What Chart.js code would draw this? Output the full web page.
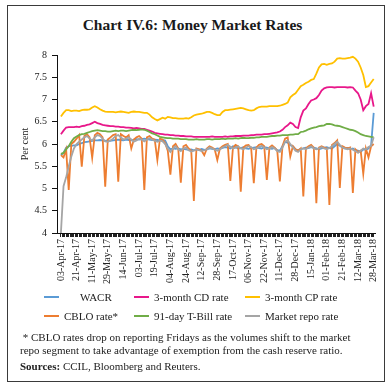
<!DOCTYPE html>
<html lang="en">
<head>
<meta charset="UTF-8">
<title>Chart IV.6: Money Market Rates</title>
<script src="https://cdn.jsdelivr.net/npm/chart.js"></script>
<style>
  body { margin: 0; background: #fff; font-family: "Liberation Serif", serif; color: #222; }
  .moldura { position: absolute; left: 7px; top: 5px; width: 378px; height: 377px; box-sizing: border-box; border: 1.5px solid #3a3a3a; }
  .titulo { position: absolute; left: 0; top: 16px; width: 385px; text-align: center; font-weight: bold; font-size: 15.5px; color: #1a1a1a; }
  #grafico { position: absolute; left: 0; top: 0; }
  .item { position: absolute; display: flex; align-items: center; height: 14px; font-size: 11px; white-space: nowrap; }
  .item i { display: inline-block; width: 15px; height: 2px; margin-right: 5px; }
  .item.primeiro span { margin-left: 16px; }
  .nota { position: absolute; left: 20px; top: 331px; width: 365px; font-size: 11px; line-height: 13px; white-space: nowrap; }
  .nota p { margin: 0; }
  .nota .fonte { margin-top: 3px; }
</style>
</head>
<body>
<div class="moldura"></div>
<div class="titulo">Chart IV.6: Money Market Rates</div>
<canvas id="grafico" width="392" height="292"></canvas>
<div id="legenda"></div>
<div class="nota">
  <p>&nbsp;* CBLO rates drop on reporting Fridays as the volumes shift to the market<br>repo segment to take advantage of exemption from the cash reserve ratio.</p>
  <p class="fonte"><b>Sources:</b> CCIL, Bloomberg and Reuters.</p>
</div>
<script>
const dateTicks = ['03-Apr-17', '21-Apr-17', '11-May-17', '29-May-17', '14-Jun-17', '03-Jul-17', '19-Jul-17',
    '04-Aug-17', '24-Aug-17', '12-Sep-17', '28-Sep-17', '17-Oct-17', '06-Nov-17', '22-Nov-17',
    '11-Dec-17', '28-Dec-17', '15-Jan-18', '01-Feb-18', '21-Feb-18', '12-Mar-18', '28-Mar-18'];

const wacr = [
    5.75, 5.80, 5.92, 5.95, 5.96, 5.97, 5.97, 6.00, 6.02, 6.04,
    6.05, 6.06, 6.07, 6.08, 6.08, 6.09, 6.08, 6.07, 6.08, 6.07,
    6.08, 6.09, 6.10, 6.09, 6.08, 6.10, 6.09, 6.08, 6.10, 6.11,
    6.10, 6.11, 6.12, 6.11, 6.10, 6.09, 6.10, 6.09, 6.08, 6.09,
    6.08, 5.95, 5.88, 5.90, 5.89, 5.90, 5.88, 5.89, 5.88, 5.87,
    5.88, 5.86, 5.88, 5.87, 5.89, 5.87, 5.88, 5.90, 5.89, 5.88,
    5.90, 5.89, 5.91, 5.93, 5.92, 5.90, 5.95, 5.93, 5.90, 5.91,
    5.93, 5.90, 5.89, 5.91, 5.92, 5.93, 5.91, 5.90, 5.93, 5.92,
    5.90, 5.89, 5.91, 5.86, 5.85, 5.95, 6.05, 6.03, 5.97, 5.95,
    5.88, 5.86, 5.89, 5.90, 5.92, 5.91, 5.93, 5.92, 5.90, 5.88,
    5.90, 5.92, 5.93, 5.91, 5.90, 5.95, 6.00, 5.96, 5.92, 5.90,
    5.91, 5.88, 5.90, 5.86, 5.85, 5.82, 5.88, 5.87, 5.90, 5.97,
    6.70];

const cdRate = [
    6.22, 6.30, 6.37, 6.38, 6.38, 6.38, 6.39, 6.38, 6.40, 6.41,
    6.43, 6.44, 6.47, 6.50, 6.47, 6.45, 6.43, 6.42, 6.41, 6.40,
    6.40, 6.39, 6.39, 6.38, 6.38, 6.37, 6.37, 6.36, 6.35, 6.36,
    6.35, 6.34, 6.34, 6.32, 6.30, 6.28, 6.25, 6.24, 6.23, 6.22,
    6.21, 6.21, 6.20, 6.20, 6.19, 6.19, 6.18, 6.18, 6.17, 6.17,
    6.17, 6.16, 6.16, 6.16, 6.16, 6.16, 6.16, 6.16, 6.17, 6.16,
    6.16, 6.16, 6.16, 6.17, 6.16, 6.17, 6.17, 6.18, 6.18, 6.18,
    6.19, 6.19, 6.19, 6.20, 6.20, 6.21, 6.21, 6.21, 6.22, 6.22,
    6.23, 6.24, 6.25, 6.26, 6.28, 6.32, 6.38, 6.42, 6.48, 6.45,
    6.38, 6.36, 6.60, 6.75, 6.80, 6.90, 6.98, 7.00, 7.03, 7.10,
    7.20, 7.25, 7.27, 7.28, 7.28, 7.27, 7.28, 7.28, 7.28, 7.28,
    7.27, 7.28, 7.27, 7.20, 7.14, 7.00, 6.76, 6.85, 6.90, 7.14,
    6.84];

const cpRate = [
    6.62, 6.70, 6.76, 6.76, 6.74, 6.75, 6.75, 6.74, 6.76, 6.77,
    6.77, 6.78, 6.82, 6.85, 6.82, 6.78, 6.75, 6.73, 6.72, 6.72,
    6.72, 6.71, 6.72, 6.73, 6.72, 6.71, 6.70, 6.72, 6.73, 6.72,
    6.72, 6.71, 6.70, 6.70, 6.66, 6.60, 6.56, 6.53, 6.56, 6.59,
    6.57, 6.61, 6.60, 6.58, 6.58, 6.57, 6.57, 6.57, 6.58, 6.57,
    6.60, 6.64, 6.66, 6.67, 6.68, 6.70, 6.72, 6.72, 6.70, 6.67,
    6.65, 6.65, 6.72, 6.76, 6.76, 6.77, 6.78, 6.79, 6.80, 6.81,
    6.80, 6.78, 6.76, 6.75, 6.76, 6.80, 6.83, 6.84, 6.84, 6.84,
    6.85, 6.85, 6.85, 6.85, 6.86, 6.88, 6.90, 6.93, 7.05, 7.10,
    7.14, 7.22, 7.30, 7.33, 7.37, 7.40, 7.44, 7.46, 7.58, 7.72,
    7.79, 7.80, 7.78, 7.80, 7.81, 7.85, 7.92, 7.93, 7.92, 7.92,
    7.93, 7.94, 7.96, 7.92, 7.85, 7.72, 7.55, 7.28, 7.30, 7.38,
    7.46];

const cbloRate = [
    5.75, 5.70, 5.88, 4.97, 6.00, 6.05, 6.12, 6.20, 5.49, 6.18,
    6.22, 6.15, 5.69, 6.20, 6.25, 6.22, 6.15, 5.04, 6.10, 6.15,
    6.20, 6.22, 5.15, 6.22, 6.18, 6.15, 6.20, 5.90, 6.10, 6.15,
    6.18, 6.12, 4.97, 6.15, 6.18, 6.12, 6.10, 5.64, 6.12, 6.10,
    6.02, 5.85, 5.31, 5.95, 6.00, 5.90, 5.13, 5.95, 5.98, 5.90,
    5.85, 4.72, 5.90, 5.88, 5.85, 5.75, 5.90, 5.95, 5.92, 5.88,
    5.64, 5.90, 5.95, 5.98, 6.00, 5.17, 5.92, 5.98, 5.95, 4.93,
    5.92, 5.97, 5.98, 5.90, 5.12, 5.92, 5.98, 6.00, 5.95, 5.19,
    5.92, 5.97, 5.92, 5.85, 5.16, 5.95, 6.12, 6.15, 5.72, 5.95,
    5.88, 5.85, 5.90, 4.82, 5.90, 5.95, 5.98, 5.92, 4.67, 5.92,
    5.95, 5.92, 5.90, 4.63, 5.98, 6.02, 6.08, 5.01, 5.95, 5.92,
    5.90, 5.92, 4.90, 5.88, 5.82, 5.85, 5.33, 5.90, 5.70, 5.95,
    6.00];

const tbill91 = [
    5.78, 5.80, 5.88, 5.95, 6.05, 6.13, 6.17, 6.20, 6.22, 6.23,
    6.25, 6.27, 6.29, 6.30, 6.31, 6.30, 6.29, 6.29, 6.28, 6.28,
    6.29, 6.30, 6.29, 6.30, 6.30, 6.29, 6.30, 6.31, 6.32, 6.31,
    6.32, 6.33, 6.32, 6.30, 6.27, 6.24, 6.22, 6.19, 6.16, 6.15,
    6.14, 6.13, 6.13, 6.12, 6.12, 6.12, 6.11, 6.11, 6.11, 6.10,
    6.10, 6.10, 6.11, 6.10, 6.10, 6.10, 6.11, 6.11, 6.10, 6.11,
    6.11, 6.11, 6.12, 6.11, 6.12, 6.12, 6.12, 6.13, 6.12, 6.13,
    6.14, 6.13, 6.13, 6.14, 6.14, 6.15, 6.15, 6.16, 6.16, 6.16,
    6.17, 6.18, 6.18, 6.19, 6.19, 6.20, 6.20, 6.20, 6.21, 6.21,
    6.22, 6.22, 6.27, 6.28, 6.30, 6.33, 6.35, 6.37, 6.38, 6.40,
    6.41, 6.42, 6.45, 6.45, 6.44, 6.42, 6.41, 6.40, 6.38, 6.36,
    6.34, 6.32, 6.31, 6.29, 6.26, 6.22, 6.20, 6.18, 6.17, 6.16,
    6.15];

const repoRate = [
    4.00, 5.05, 5.25, 5.50, 5.72, 5.90, 6.00, 6.05, 6.10, 6.15,
    6.18, 6.12, 6.08, 6.15, 6.20, 6.18, 6.12, 6.06, 6.05, 6.08,
    6.12, 6.18, 6.20, 6.15, 6.10, 6.12, 6.15, 6.10, 6.05, 6.08,
    6.12, 6.10, 6.06, 6.10, 6.13, 6.10, 6.07, 6.05, 6.08, 6.06,
    6.00, 5.90, 5.82, 5.90, 5.95, 5.88, 5.84, 5.90, 5.92, 5.86,
    5.83, 5.85, 5.88, 5.86, 5.84, 5.86, 5.88, 5.92, 5.90, 5.87,
    5.85, 5.88, 5.92, 5.95, 5.98, 5.94, 5.90, 5.92, 5.95, 5.90,
    5.88, 5.92, 5.95, 5.93, 5.88, 5.90, 5.93, 5.96, 5.92, 5.88,
    5.90, 5.93, 5.90, 5.84, 5.82, 5.92, 6.05, 6.08, 6.00, 5.92,
    5.85, 5.82, 5.88, 5.90, 5.88, 5.92, 5.95, 5.90, 5.88, 5.90,
    5.93, 5.90, 5.88, 5.91, 5.95, 6.00, 6.05, 5.98, 5.92, 5.90,
    5.88, 5.90, 5.87, 5.84, 5.80, 5.85, 5.90, 5.88, 5.93, 5.96,
    6.15];

const fonte = { family: '"Liberation Serif", serif', size: 10 };

function serie(label, valores, cor, ordem) {
    return {
        label: label,
        data: valores.map((v, i) => ({ x: i, y: v })),
        borderColor: cor,
        backgroundColor: cor,
        borderWidth: 1.8,
        pointRadius: 0,
        tension: 0,
        fill: false,
        order: ordem
    };
}

const datasets = [
    serie('WACR', wacr, '#5b9bd5', 5),
    serie('3-month CD rate', cdRate, '#e8178a', 4),
    serie('3-month CP rate', cpRate, '#ffc000', 3),
    serie('CBLO rate*', cbloRate, '#ed7d31', 2),
    serie('91-day  T-Bill rate', tbill91, '#70ad47', 1),
    serie('Market repo rate', repoRate, '#a5a5a5', 0)
];

const grafico = new Chart(document.getElementById('grafico'), {
    type: 'line',
    data: { datasets: datasets },
    options: {
        responsive: false,
        animation: false,
        layout: { padding: { top: 55, left: 15, right: 17, bottom: 0 } },
        plugins: {
            legend: { display: false },
            tooltip: { enabled: false }
        },
        scales: {
            x: {
                type: 'linear',
                min: -1.5,
                max: 120.5,
                bounds: 'data',
                afterBuildTicks: (scale) => {
                    const marcas = [];
                    for (let k = 0; k <= 240; k++) marcas.push({ value: k / 2 });
                    scale.ticks = marcas;
                },
                afterFit: (scale) => { scale.height = 59; },
                grid: { drawOnChartArea: false, drawTicks: true, tickLength: 4, color: '#222', lineWidth: 1 },
                border: { display: true, color: '#111', width: 1 },
                ticks: {
                    autoSkip: false,
                    maxRotation: 90,
                    minRotation: 90,
                    padding: 2,
                    color: '#222',
                    font: fonte,
                    callback: (v) => (v % 6 === 0 ? dateTicks[v / 6] : '')
                }
            },
            y: {
                min: 4,
                max: 8,
                afterFit: (scale) => { scale.width = 42; },
                grid: { drawOnChartArea: false, tickLength: 5, color: '#111' },
                border: { display: true, color: '#111', width: 1 },
                ticks: { stepSize: 0.5, padding: 5, color: '#222', font: fonte, callback: (v) => String(v) },
                title: { display: true, text: 'Per cent', color: '#222', font: fonte, padding: { top: 4, bottom: 0 } }
            }
        }
    }
});

// legenda em 2 linhas de 3 colunas, como no original
const legenda = document.getElementById('legenda');
const colunas = [44, 134, 245];
const linhas = [290, 309];
datasets.forEach((ds, i) => {
    const item = document.createElement('div');
    item.className = 'item' + (i === 0 ? ' primeiro' : '');
    item.style.left = colunas[i % 3] + 'px';
    item.style.top = linhas[Math.floor(i / 3)] + 'px';
    item.innerHTML = '<i style="background:' + ds.borderColor + '"></i><span>' + ds.label + '</span>';
    legenda.appendChild(item);
});
</script>
</body>
</html>
